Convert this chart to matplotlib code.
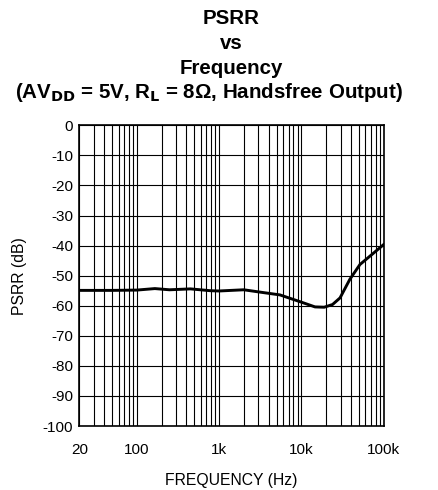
import matplotlib
matplotlib.use("Agg")
import matplotlib.pyplot as plt
from matplotlib.ticker import LogLocator, FixedLocator, NullFormatter

plt.rcParams["font.family"] = ["Liberation Sans", "DejaVu Sans"]
plt.rcParams["axes.unicode_minus"] = False

# PSRR curve, handsfree output
freq = [20, 50, 100, 166, 250, 450, 780, 1000, 2000, 3200, 5500, 10000,
        14700, 19000, 24000, 29600, 39000, 51700, 72000, 100000]
psrr = [-54.9, -54.9, -54.8, -54.3, -54.7, -54.4, -55.0, -55.1, -54.7, -55.5,
        -56.4, -58.8, -60.4, -60.5, -59.6, -57.4, -51.2, -46.3, -43.0, -39.7]

x_ticks = [20, 100, 1000, 10000, 100000]
x_labels = ["20", "100", "1k", "10k", "100k"]
y_ticks = list(range(-100, 1, 10))

fig = plt.figure(figsize=(4.38, 4.90), dpi=100)
ax = fig.add_axes([0.181, 0.1306, 0.6946, 0.6137])

ax.plot(freq, psrr, color="black", linewidth=2.1, zorder=3)

ax.set_xscale("log")
ax.set_xlim(20, 100000)
ax.set_ylim(-100, 0)

ax.xaxis.set_major_locator(FixedLocator(x_ticks))
ax.set_xticklabels(x_labels)
ax.xaxis.set_minor_locator(LogLocator(base=10, subs=range(2, 10), numticks=20))
ax.xaxis.set_minor_formatter(NullFormatter())
ax.set_yticks(y_ticks)

ax.grid(True, which="both", axis="x", color="black", linewidth=0.8)
ax.grid(True, which="major", axis="y", color="black", linewidth=0.8)
ax.tick_params(which="both", length=0, labelsize=11)
ax.tick_params(axis="x", pad=12)
ax.tick_params(axis="y", pad=4.5)
for s in ax.spines.values():
    s.set_linewidth(1.2)

ax.set_xlabel("FREQUENCY (Hz)", fontsize=11.3, labelpad=12)
ax.set_ylabel("PSRR (dB)", fontsize=11.3, labelpad=11)

# title lines
tkw = dict(ha="center", va="baseline", fontsize=14.8, fontweight="bold")
fig.text(0.528, 0.951, "PSRR", **tkw)
fig.text(0.528, 0.900, "vs", **tkw)
fig.text(0.528, 0.849, "Frequency", **tkw)
fig.text(0.478, 0.801, r"(AV$_{\mathbf{DD}}$ = 5V, R$_{\mathbf{L}}$ = 8Ω, Handsfree Output)", **tkw)

fig.savefig("out.png", dpi=100)
